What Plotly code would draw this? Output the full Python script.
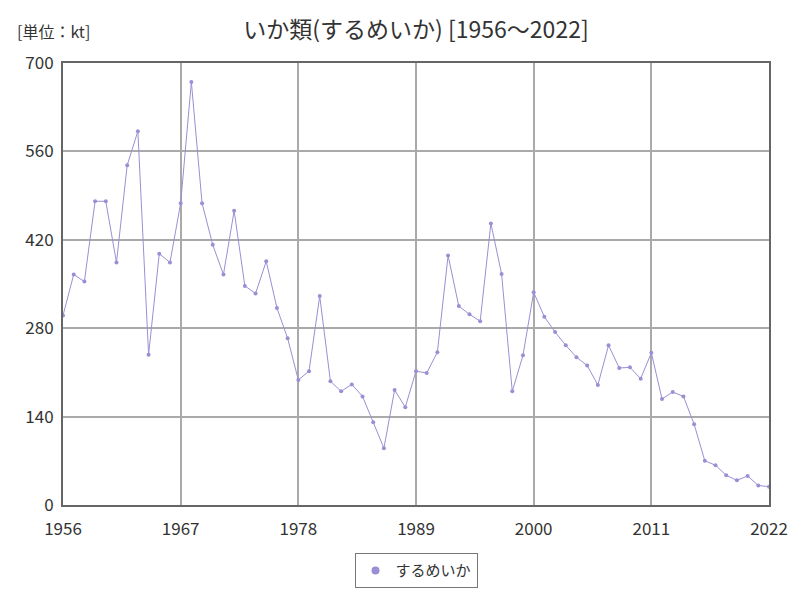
import plotly.graph_objects as go

years = list(range(1956, 2023))
values = [300, 365, 354, 481, 481, 384, 538, 592, 238, 398, 384, 478, 670, 478, 412,
          365, 466, 347, 335, 386, 312, 264, 198, 212, 331, 196, 180, 191, 172, 131,
          90, 182, 155, 212, 209, 242, 395, 315, 302, 291, 446, 366, 180, 237, 337,
          298, 274, 253, 234, 221, 190, 253, 217, 218, 200, 241, 168, 179, 172, 128,
          70, 63, 47, 39, 46, 31, 29]
series_name = "するめいか"
x_ticks = [1956, 1967, 1978, 1989, 2000, 2011, 2022]
y_ticks = [0, 140, 280, 420, 560, 700]

font = "Noto Sans CJK JP"
color = "#9a8fd4"
fig = go.Figure()
fig.add_trace(go.Scatter(
    x=years, y=values, mode="lines+markers", name=series_name, showlegend=False,
    line=dict(color=color, width=1),
    marker=dict(color=color, size=4),
))
# legend entry showing only the marker
fig.add_trace(go.Scatter(
    x=[None], y=[None], mode="markers", name=series_name,
    marker=dict(color=color, size=8),
))
fig.update_layout(
    width=800, height=600,
    margin=dict(l=63, r=29, t=63, b=93),
    paper_bgcolor="white", plot_bgcolor="white",
    font=dict(family=font, color="#333"),
    title=dict(text="いか類(するめいか) [1956～2022]", x=0.5, xref="paper",
               y=570/600, yanchor="middle", font=dict(size=23, color="#333")),
    showlegend=True,
    legend=dict(orientation="h", x=0.5, xanchor="center", y=-0.149, yanchor="middle",
                bordercolor="#777", borderwidth=1, font=dict(size=15, color="#333"),
                itemwidth=30),
    annotations=[dict(text="[単位：kt]", xref="paper", yref="paper", x=-0.068, y=1.072,
                      xanchor="left", yanchor="middle", showarrow=False,
                      font=dict(size=16, color="#333"))],
)
fig.update_xaxes(range=[1956, 2022], tickvals=x_ticks, ticktext=[str(t) for t in x_ticks],
                 showgrid=True, gridcolor="#aaa", gridwidth=1.5,
                 showline=True, linecolor="#666", linewidth=2, mirror=True,
                 tickfont=dict(size=17, color="#333"), ticks="", zeroline=False,
                 ticklabelstandoff=8)
fig.update_yaxes(range=[0, 700], tickvals=y_ticks, ticktext=[str(t) for t in y_ticks],
                 showgrid=True, gridcolor="#aaa", gridwidth=1.5,
                 showline=True, linecolor="#666", linewidth=2, mirror=True,
                 tickfont=dict(size=17, color="#333"), ticks="", zeroline=False,
                 ticklabelstandoff=4)
fig.write_html("out.html")
